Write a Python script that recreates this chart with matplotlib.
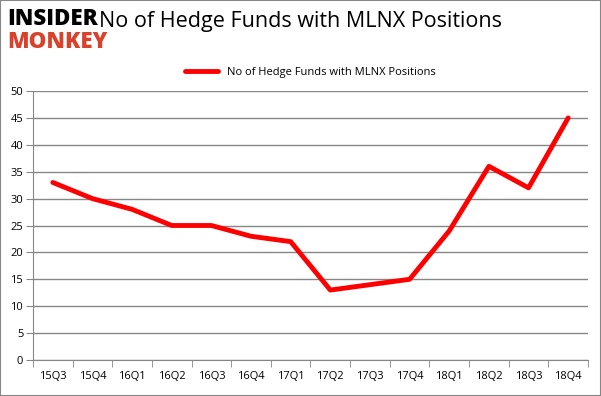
import matplotlib
matplotlib.use("Agg")
import matplotlib.pyplot as plt
from matplotlib.patches import Rectangle

quarters = ["15Q3", "15Q4", "16Q1", "16Q2", "16Q3", "16Q4", "17Q1",
            "17Q2", "17Q3", "17Q4", "18Q1", "18Q2", "18Q3", "18Q4"]
funds = [33, 30, 28, 25, 25, 23, 22, 13, 14, 15, 24, 36, 32, 45]
series_label = "No of Hedge Funds with MLNX Positions"

plt.rcParams["font.family"] = ["Open Sans", "DejaVu Sans"]
fig = plt.figure(figsize=(6.01, 3.96), dpi=100)
ax = fig.add_axes([33 / 601, 36 / 396, 555 / 601, 269 / 396])

x = range(len(quarters))
ax.plot(x, funds, color="#ff0000", lw=3.5, solid_capstyle="round",
        solid_joinstyle="round", label=series_label)

ax.set_xlim(-0.5, len(quarters) - 0.5)
ax.set_ylim(0, 50)
ax.set_yticks(range(0, 51, 5))
ax.set_xticks(x)
ax.set_xticklabels(quarters)
ax.set_xticks([i - 0.5 for i in range(len(quarters) + 1)], minor=True)
ax.tick_params(axis="x", which="major", length=0, pad=8, labelsize=8)
ax.tick_params(axis="x", which="minor", length=5, color="#868686")
ax.tick_params(axis="y", length=5, color="#868686", labelsize=8, pad=2)
ax.grid(axis="y", color="#868686", lw=1)
ax.set_axisbelow(True)
for s in ["top", "right"]:
    ax.spines[s].set_visible(False)
for s in ["left", "bottom"]:
    ax.spines[s].set_color("#868686")

ax.legend(loc="lower center", bbox_to_anchor=(0.5, 1.0), frameon=False,
          fontsize=8, handlelength=3, borderaxespad=0.8)

fig.text(0.5, 0.945, series_label, ha="center", va="center", fontsize=15.5)
fig.text(0.012, 0.952, "INSIDER", ha="left", va="center", fontsize=16,
         fontweight="heavy", color="black")
fig.text(0.012, 0.895, "MONKEY", ha="left", va="center", fontsize=16,
         fontweight="heavy", color="#d9412b")

fig.patches.append(Rectangle((0, 0), 1, 1, transform=fig.transFigure,
                             fill=False, edgecolor="#868686", lw=1.5))
fig.savefig("out.png", dpi=100)
